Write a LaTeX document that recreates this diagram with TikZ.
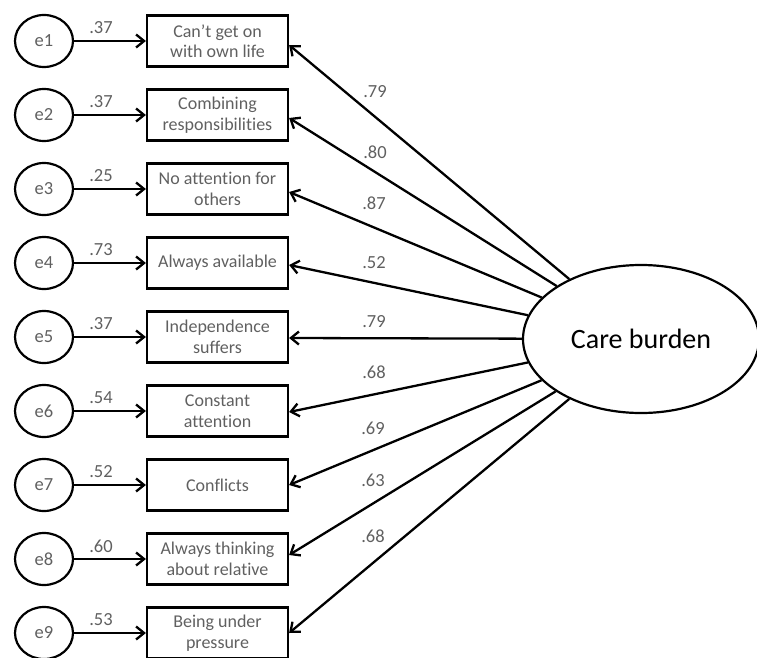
\documentclass[tikz,border=0pt]{standalone}
\usepackage{fontspec}
\setmainfont{Carlito}[Ligatures=NoCommon]
\usetikzlibrary{arrows.meta,shapes.geometric}
\definecolor{txtgray}{RGB}{96,96,96}
\tikzset{
  err/.style={draw=black, line width=2.2pt, ellipse, minimum width=58pt, minimum height=52pt, inner sep=0pt, text=txtgray, font=\fontsize{18.5}{21}\selectfont},
  item/.style={draw=black, line width=2.2pt, rectangle, minimum width=141pt, minimum height=51pt, inner sep=0pt, align=center, text=txtgray, font=\fontsize{18}{20.5}\selectfont},
  wgt/.style={text=txtgray, inner sep=0pt, font=\fontsize{18.5}{21}\selectfont},
  link/.style={line width=2.3pt, -{Straight Barb[length=8pt,width=13pt,line width=2.3pt]}}
}
\begin{document}
\begin{tikzpicture}[x=1pt, y=-1pt]
              \useasboundingbox (0,0) rectangle (757,658);
              \node [err] (e1) at (44,41) {e1};
              \node [err] (e2) at (44,115) {e2};
              \node [err] (e3) at (44,189) {e3};
              \node [err] (e4) at (44,263) {e4};
              \node [err] (e5) at (44,337) {e5};
              \node [err] (e6) at (44,411) {e6};
              \node [err] (e7) at (44,485) {e7};
              \node [err] (e8) at (44,559) {e8};
              \node [err] (e9) at (44,633) {e9};
              \node [item] (b1) at (217.5,41) {Can’t get on\\with own life};
              \node [item] (b2) at (217.5,115) {Combining\\responsibilities};
              \node [item] (b3) at (217.5,189) {No attention for\\others};
              \node [item] (b4) at (217.5,263) {Always available};
              \node [item] (b5) at (217.5,337) {Independence\\suffers};
              \node [item] (b6) at (217.5,411) {Constant\\attention};
              \node [item] (b7) at (217.5,485) {Conflicts};
              \node [item] (b8) at (217.5,559) {Always thinking\\about relative};
              \node [item] (b9) at (217.5,633) {Being under\\pressure};
              \node [draw=black, line width=2.2pt, ellipse, minimum width=236pt, minimum height=148pt, inner sep=0pt, font=\fontsize{28}{32}\selectfont] (cb) at (641,339) {Care burden};
              \draw [link] (e1) -- (b1);
              \node [wgt] (r1) at (101,28) {.37};
              \draw [link] (e2) -- (b2);
              \node [wgt] (r2) at (101,102) {.37};
              \draw [link] (e3) -- (b3);
              \node [wgt] (r3) at (101,176) {.25};
              \draw [link] (e4) -- (b4);
              \node [wgt] (r4) at (101,250) {.73};
              \draw [link] (e5) -- (b5);
              \node [wgt] (r5) at (101,324) {.37};
              \draw [link] (e6) -- (b6);
              \node [wgt] (r6) at (101,398) {.54};
              \draw [link] (e7) -- (b7);
              \node [wgt] (r7) at (101,472) {.52};
              \draw [link] (e8) -- (b8);
              \node [wgt] (r8) at (101,546) {.60};
              \draw [link] (e9) -- (b9);
              \node [wgt] (r9) at (101,620) {.53};
              \draw [link] (cb) -- ([yshift=-4pt]b1.east);
              \node [wgt] (l1) at (375,92) {.79};
              \draw [link] (cb) -- ([yshift=-3pt]b2.east);
              \node [wgt] (l2) at (375,152) {.80};
              \draw [link] (cb) -- ([yshift=-3pt]b3.east);
              \node [wgt] (l3) at (374,203) {.87};
              \draw [link] (cb) -- ([yshift=-2pt]b4.east);
              \node [wgt] (l4) at (374,263) {.52};
              \draw [link] (cb) -- ([yshift=-1pt]b5.east);
              \node [wgt] (l5) at (374,322) {.79};
              \draw [link] (cb) -- ([yshift=-1pt]b6.east);
              \node [wgt] (l6) at (374,372) {.68};
              \draw [link] (cb) -- (b7.east);
              \node [wgt] (l7) at (373,428) {.69};
              \draw [link] (cb) -- ([yshift=4pt]b8.east);
              \node [wgt] (l8) at (373,480) {.63};
              \draw [link] (cb) -- (b9.east);
              \node [wgt] (l9) at (373,536) {.68};
            \end{tikzpicture}
\end{document}
